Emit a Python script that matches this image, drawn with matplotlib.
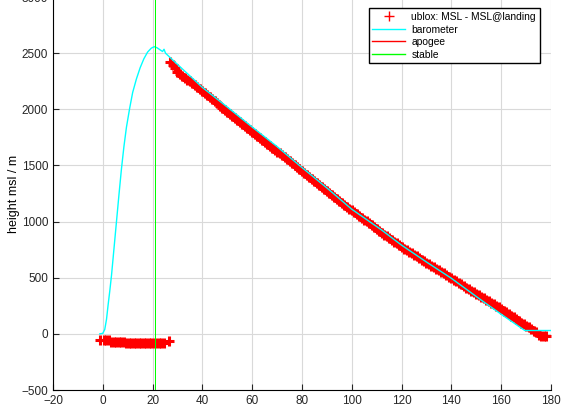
import numpy as np
import matplotlib
matplotlib.use("Agg")
import matplotlib.pyplot as plt

plt.rcParams["font.family"] = ["Liberation Sans", "DejaVu Sans"]

# barometer height (s, m)
baro_t = [-1.2, 0.0, 0.8, 1.5, 2.1, 2.8, 3.5, 4.5, 5.5, 6.5, 7.5, 8.5, 9.5,
          10.8, 12.0, 13.5, 15.0, 16.5, 18.0, 19.5, 20.7, 21.8, 23.0, 24.0,
          24.6, 25.2, 27.0, 30.0, 40.0, 50.0, 60.0, 70.0, 79.0, 90.0, 100.0,
          112.0, 120.0, 130.0, 140.0, 151.4, 160.0, 169.5, 179.8]
baro_h = [0, 5, 40, 130, 250, 380, 520, 760, 1000, 1240, 1470, 1670, 1840,
          2010, 2150, 2270, 2370, 2450, 2510, 2545, 2558, 2548, 2530, 2515,
          2535, 2500, 2462, 2400, 2195, 2020, 1842, 1668, 1500, 1300, 1110,
          925, 790, 640, 495, 310, 175, 30, 30]

# ublox on the pad (before lock)
gnd_t = [-1.2, 0.4, 1.4, 2.4, 3.4, 4.4, 5.4, 6.4, 7.4, 8.4, 9.4, 10.4, 11.4,
         12.4, 13.4, 14.4, 15.4, 16.4, 17.4, 18.4, 19.4, 20.4, 21.4, 22.4,
         23.4, 24.4, 26.4]
gnd_h = [-54, -55, -55, -56, -68, -69, -70, -70, -71, -72, -80, -80, -81,
         -80, -81, -80, -80, -81, -80, -80, -81, -80, -80, -81, -80, -80, -62]

# ublox during descent, 1 Hz from t = 27 s
fl_t0 = 27
fl_h = [2420, 2398, 2372, 2335, 2314, 2296, 2280, 2264, 2248, 2232,
        2216, 2200, 2184, 2167, 2148, 2129, 2110, 2091, 2072, 2053,
        2034, 2015, 1996, 1976, 1958, 1940, 1922, 1904, 1886, 1868,
        1850, 1832, 1814, 1795, 1778, 1761, 1744, 1727, 1710, 1693,
        1676, 1659, 1642, 1624, 1607, 1590, 1573, 1556, 1539, 1522,
        1505, 1488, 1470, 1452, 1434, 1416, 1398, 1380, 1362, 1344,
        1326, 1308, 1290, 1273, 1255, 1237, 1219, 1201, 1183, 1165,
        1147, 1129, 1115, 1101, 1084, 1067, 1050, 1034, 1017, 1001,
        984, 967, 950, 933, 917, 901, 885, 869, 853, 837,
        821, 805, 790, 774, 760, 746, 732, 718, 704, 690,
        676, 662, 648, 634, 620, 606, 593, 579, 565, 552,
        538, 524, 511, 497, 483, 469, 455, 441, 427, 413,
        399, 385, 371, 357, 344, 330, 317, 303, 290, 277,
        263, 250, 236, 223, 208, 193, 177, 162, 147, 132,
        117, 101, 86, 72, 58, 44, 30, 15, -10, -15,
        -18, -15]
fl_t = fl_t0 + np.arange(len(fl_h))

t_apogee = 20.9
t_stable = 20.9

fig = plt.figure(figsize=(5.74, 4.17), dpi=100)
ax = fig.add_axes([0.0923, 0.0647, 0.8676, 0.9424])

ublox_t = np.concatenate([gnd_t, fl_t])
ublox_h = np.concatenate([gnd_h, fl_h])
ax.plot(ublox_t, ublox_h, "+", color="#ff0000", markersize=6.5, mew=2.2,
        label="ublox: MSL - MSL@landing")
ax.plot(baro_t, baro_h, "-", color="#00ffff", lw=1.0, label="barometer")
# apogee and stable fall on the same sample, stable drawn on top
ax.axvline(t_apogee, color="#ff0000", lw=0.6, antialiased=False, label="apogee")
ax.axvline(t_stable, color="#00ff00", lw=0.6, antialiased=False, label="stable")

ax.set_xlim(-20, 180)
ax.set_ylim(-500, 3000)
ax.set_xticks(np.arange(-20, 181, 20))
ax.set_yticks(np.arange(-500, 3001, 500))
ax.grid(True, color="#d9d9d9", lw=0.8)
ax.set_axisbelow(True)
ax.spines["top"].set_visible(False)
ax.spines["right"].set_visible(False)
ax.tick_params(direction="in", length=4, labelsize=8.5, colors="#262626")
ax.set_ylabel("height msl / m", fontsize=9, labelpad=1)

leg = ax.legend(loc="upper right", fontsize=7.4, handlelength=3.2,
                labelspacing=0.25, borderaxespad=1.1, fancybox=False,
                framealpha=1, edgecolor="black", handletextpad=0.6,
                borderpad=0.35)
leg.legend_handles[0].set_markersize(6.5)
leg.legend_handles[0].set_markeredgewidth(1.0)
for h in leg.legend_handles[1:]:
    h.set_linewidth(1.0)
    h.set_antialiased(True)
leg.get_frame().set_linewidth(1.0)

fig.savefig("out.png", dpi=100)
